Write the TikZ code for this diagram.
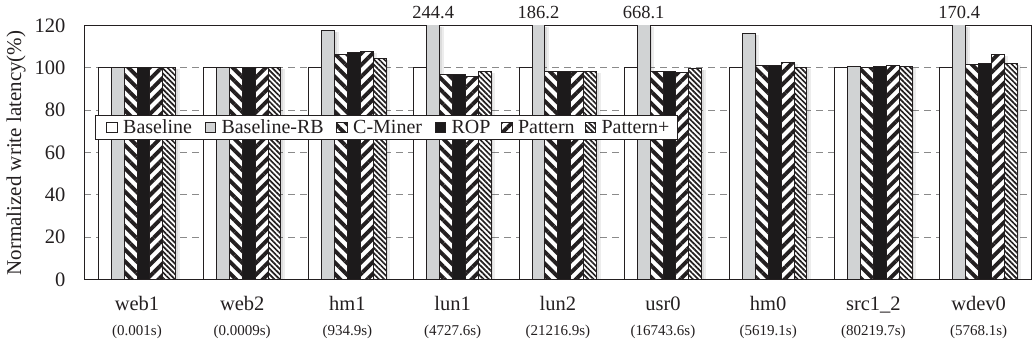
\documentclass[tikz,border=0pt]{standalone}
\usepackage{fontspec}
\setmainfont{Liberation Serif}
\usetikzlibrary{patterns.meta}

\definecolor{ink}{HTML}{231F20}
\definecolor{rbgray}{HTML}{D1D3D4}
\definecolor{ropblack}{HTML}{1C1A1B}
\definecolor{gridgray}{HTML}{8A8A8A}

\tikzset{
  barline/.style={draw=ink, line width=1pt},
  sBase/.style={barline, fill=white},
  sRB/.style={barline, fill=rbgray},
  sCM/.style={barline, preaction={fill=white},
    pattern={Lines[angle=-45,distance=8.2pt,line width=3.9pt]}, pattern color=ink},
  sROP/.style={barline, fill=ropblack},
  sPat/.style={barline, preaction={fill=white},
    pattern={Lines[angle=45,distance=8.2pt,line width=3.9pt]}, pattern color=ink},
  sPatP/.style={barline, preaction={fill=white},
    pattern={Lines[angle=-45,distance=3.7pt,line width=1.7pt]}, pattern color=ink},
  gridline/.style={gridgray, line width=0.8pt, dash pattern=on 7pt off 5pt},
  frameline/.style={ink, line width=1pt},
  ticklbl/.style={anchor=base east, inner sep=0pt, text=ink, font=\fontsize{20.5}{24}\selectfont},
  grplbl/.style={anchor=base, inner sep=0pt, text=ink, font=\fontsize{20.5}{24}\selectfont},
  durlbl/.style={anchor=base, inner sep=0pt, text=ink, font=\fontsize{15}{18}\selectfont},
  vallbl/.style={anchor=base, inner sep=0pt, text=ink, font=\fontsize{18.5}{22}\selectfont},
  leglbl/.style={anchor=base west, inner sep=0pt, text=ink, font=\fontsize{20}{24}\selectfont},
}

% one bar: #1 group index, #2 slot 0..5, #3 value (%), #4 style
\newcommand\plotbar[4]{%
  \pgfmathsetmacro\bxl{137+#1*105.2+(#2-3)*12.9}%
  \pgfmathsetmacro\bxr{\bxl+12.9}%
  \pgfmathsetmacro\bvt{min(#3,120)}%
  \pgfmathsetmacro\byt{279.3-\bvt*2.11667}%
  \fill[black,opacity=.07] (\bxl+1.5,\byt+1.5) rectangle (\bxr+4,279.3);
  \fill[black,opacity=.07] (\bxl+1.5,\byt+1.5) rectangle (\bxr+2,279.3);
  \pgfmathparse{#3>120 ? 1 : 0}%
  \ifnum\pgfmathresult=1
    \fill[rbgray] (\bxl,279.3) rectangle (\bxr,24.6);
    \draw[barline] (\bxl,279.3) -- (\bxl,25.3) (\bxr,25.3) -- (\bxr,279.3);
    \node[vallbl] (val#1) at ({(\bxl+\bxr)/2},18.5) {#3};
  \else
    \path[#4] (\bxl,279.3) rectangle (\bxr,\byt);
  \fi
}

\begin{document}
\begin{tikzpicture}[x=1pt,y=-1pt]
\useasboundingbox (0,0) rectangle (1035,345);

% grid and frame
\foreach \v in {20,40,60,80,100}
  \draw[gridline] (84.4,{279.3-\v*2.11667}) -- (1031,{279.3-\v*2.11667});
\draw[frameline] (84.4,25.3) rectangle (1031,279.3);

% y axis
\foreach \v in {0,20,...,120}
  \node[ticklbl] (tick\v) at (65.5,{279.3-\v*2.11667+7}) {\v};
\node[rotate=90, inner sep=0pt, text=ink, font=\fontsize{21}{24}\selectfont]
  (ytitle) at (16,153) {Normalized write latency(\%)};

% bars: Baseline, Baseline-RB, C-Miner, ROP, Pattern, Pattern+
\foreach \g/\a/\b/\c/\d/\e/\f in {
    0/100/100/100/100/100/100,
    1/100/100/100/100/100/100,
    2/100/117.4/106/107/107.6/104.5,
    3/100/244.4/96.9/96.9/95.9/98.1,
    4/100/186.2/98.1/98.1/98.1/98.1,
    5/100/668.1/98.1/98.1/97.5/99.4,
    6/100/116.1/100.8/101.1/102.5/100,
    7/100/100.5/100/100.5/101.1/100.5,
    8/100/170.4/101.7/102/106.1/102}{
  \plotbar{\g}{0}{\a}{sBase}
  \plotbar{\g}{1}{\b}{sRB}
  \plotbar{\g}{2}{\c}{sCM}
  \plotbar{\g}{3}{\d}{sROP}
  \plotbar{\g}{4}{\e}{sPat}
  \plotbar{\g}{5}{\f}{sPatP}
}
\draw[ink, line width=1.2pt] (84.4,279.3) -- (1031,279.3);

% category labels
\foreach \g/\n/\t in {0/web1/(0.001s), 1/web2/(0.0009s), 2/hm1/(934.9s),
    3/lun1/(4727.6s), 4/lun2/(21216.9s), 5/usr0/(16743.6s), 6/hm0/(5619.1s),
    7/src1\_2/(80219.7s), 8/wdev0/(5768.1s)}{
  \node[grplbl] (grp\g) at ({137+\g*105.2},310) {\n};
  \node[durlbl] (dur\g) at ({137+\g*105.2},335) {\t};
}

% legend
\node[draw=ink, line width=0.8pt, fill=white, inner sep=0pt, anchor=north west,
  minimum width=582pt, minimum height=24pt] (legend) at (95,115) {};
\foreach \x/\s/\t [count=\k] in {106.7/sBase/Baseline, 205/sRB/Baseline-RB,
    336.7/sCM/C-Miner, 435/sROP/ROP, 501.5/sPat/Pattern, 585/sPatP/Pattern+}{
  \path[\s, line width=0.8pt] (\x,122) rectangle ++(10.8,10.8);
  \node[leglbl] (leg\k) at (\x+16.3,133) {\t};
}
\end{tikzpicture}
\end{document}
